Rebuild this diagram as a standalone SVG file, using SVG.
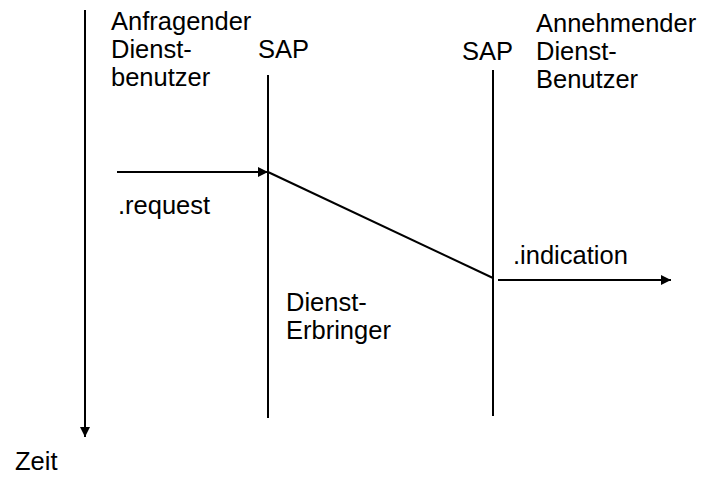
<svg xmlns="http://www.w3.org/2000/svg" width="701" height="477" viewBox="0 0 701 477">
<defs>
<style>
text{font-family:"Liberation Sans",Arial,sans-serif;font-size:25.5px;fill:#000}
.ln{stroke:#000;stroke-width:2;fill:none}
</style>
<marker id="ah" viewBox="0 0 10 10" refX="10" refY="5" markerUnits="userSpaceOnUse" markerWidth="10" markerHeight="10" orient="auto">
<path d="M0,0 L10,5 L0,10 z" fill="#000"/>
</marker>
</defs>
<rect width="701" height="477" fill="#fff"/>
<g id="zeitachse">
<line class="ln" x1="85" y1="10" x2="85" y2="437" marker-end="url(#ah)"/>
<text x="15" y="470">Zeit</text>
</g>
<g id="anfragender">
<text x="111" y="30">Anfragender</text>
<text x="111" y="58">Dienst-</text>
<text x="111" y="86">benutzer</text>
</g>
<g id="sap-links">
<text x="258" y="58">SAP</text>
<line class="ln" x1="268" y1="75" x2="268" y2="418"/>
</g>
<g id="sap-rechts">
<text x="462" y="60">SAP</text>
<line class="ln" x1="493" y1="70" x2="493" y2="416"/>
</g>
<g id="annehmender">
<text x="536" y="32">Annehmender</text>
<text x="536" y="60">Dienst-</text>
<text x="536" y="88">Benutzer</text>
</g>
<g id="diensterbringer">
<text x="286" y="311">Dienst-</text>
<text x="286" y="339">Erbringer</text>
</g>
<g id="connectors">
<line class="ln" x1="117" y1="172" x2="268" y2="172" marker-end="url(#ah)"/>
<line class="ln" x1="268" y1="172" x2="493" y2="278"/>
<line class="ln" x1="498" y1="280" x2="671" y2="280" marker-end="url(#ah)"/>
</g>
<g id="labels">
<text x="118" y="214">.request</text>
<text x="513" y="264">.indication</text>
</g>
</svg>
